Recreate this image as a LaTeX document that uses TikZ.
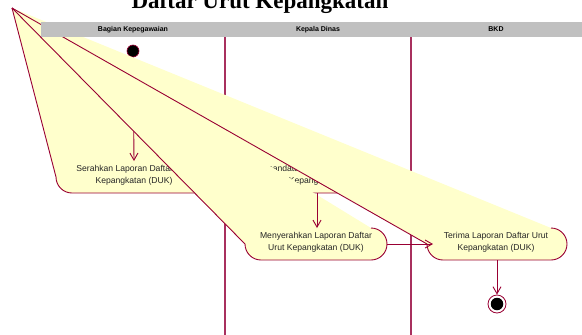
\documentclass[tikz,border=0pt]{standalone}
\usepackage{fontspec}
\setmainfont{Liberation Sans}
\newfontfamily\titlefont{Liberation Serif}
\usetikzlibrary{arrows.meta}
\definecolor{actfill}{HTML}{FFFFCC}
\definecolor{actline}{HTML}{990033}
\definecolor{laneline}{HTML}{A8305E}
\definecolor{hdr}{HTML}{C0C0C0}
\newcommand{\actpoly}[4]{%
  \fill[actfill] (apex) -- (#3-16,#2) arc[start angle=-90,end angle=90,radius=16] -- (#1+16,#4) arc[start angle=90,end angle=180,radius=16] -- cycle;
  \draw[actline, line width=0.9pt] (#3-16,#2) arc[start angle=-90,end angle=90,radius=16] -- (#1+16,#4) arc[start angle=90,end angle=180,radius=16] -- (apex);
}
\begin{document}
\begin{tikzpicture}[x=1pt,y=-1pt,
  acttext/.style={align=center, font=\fontsize{8.6}{12.3}\selectfont, inner sep=0pt, text=black!85},
  lanelabel/.style={font=\bfseries\fontsize{7}{8}\selectfont, inner sep=0pt},
  arr/.style={actline, line width=0.9pt, -{Straight Barb[length=7pt,width=8pt]}},
  laneln/.style={laneline, line width=1.4pt}]
\useasboundingbox (0,0) rectangle (582,335);
\coordinate (apex) at (12,8);
% lane lines
\draw[laneln] (225,36.7) -- (225,335);
\draw[laneln] (411,36.7) -- (411,335);
% start node
\node[circle, fill=black, draw=actline, line width=0.6pt, minimum size=12pt, inner sep=0pt] (start) at (133,51) {};
% Serahkan
\actpoly{56}{161}{212}{193}
\node[acttext] (serahkan) at (134,175.5) {Serahkan Laporan Daftar Urut\\Kepangkatan (DUK)};
\coordinate (serT) at (134,161);
\draw[arr] (start) -- (serT);
% Menandatangani
\actpoly{250}{161}{386}{193}
\node[acttext] (mena) at (318,175.5) {Menandatangani Laporan Daftar\\Urut Kepangkatan (DUK)};
\coordinate (menaB) at (317,193);
% Menyerahkan
\actpoly{245}{228}{387}{260}
\node[acttext] (meny) at (316,242) {Menyerahkan Laporan Daftar\\Urut Kepangkatan (DUK)};
\coordinate (menyT) at (317,228);
\coordinate (menyR) at (387,244);
\draw[arr] (menaB) -- (menyT);
% Terima
\actpoly{427}{228}{567}{260}
\node[acttext] (terima) at (496,242) {Terima Laporan Daftar Urut\\Kepangkatan (DUK)};
\coordinate (terL) at (433,244);
\coordinate (terB) at (497,260);
\draw[arr] (menyR) -- (terL);
% end node
\node[circle, draw=actline, fill=white, line width=0.8pt, minimum size=18pt, inner sep=0pt] (end) at (497,304) {};
\node[circle, fill=black, minimum size=12.5pt, inner sep=0pt] (endin) at (end.center) {};
\draw[arr] (terB) -- (end);
% header
\fill[hdr] (41,22) rectangle (582,36.7);
\node[lanelabel] (lane1) at (133,29.5) {Bagian Kepegawaian};
\node[lanelabel] (lane2) at (318,29.5) {Kepala Dinas};
\node[lanelabel] (lane3) at (496,29.5) {BKD};
% title
\node[font=\titlefont\bfseries\fontsize{23}{23}\selectfont, anchor=base, inner sep=0pt] (title) at (260,8.5) {Daftar Urut Kepangkatan};
\end{tikzpicture}
\end{document}
